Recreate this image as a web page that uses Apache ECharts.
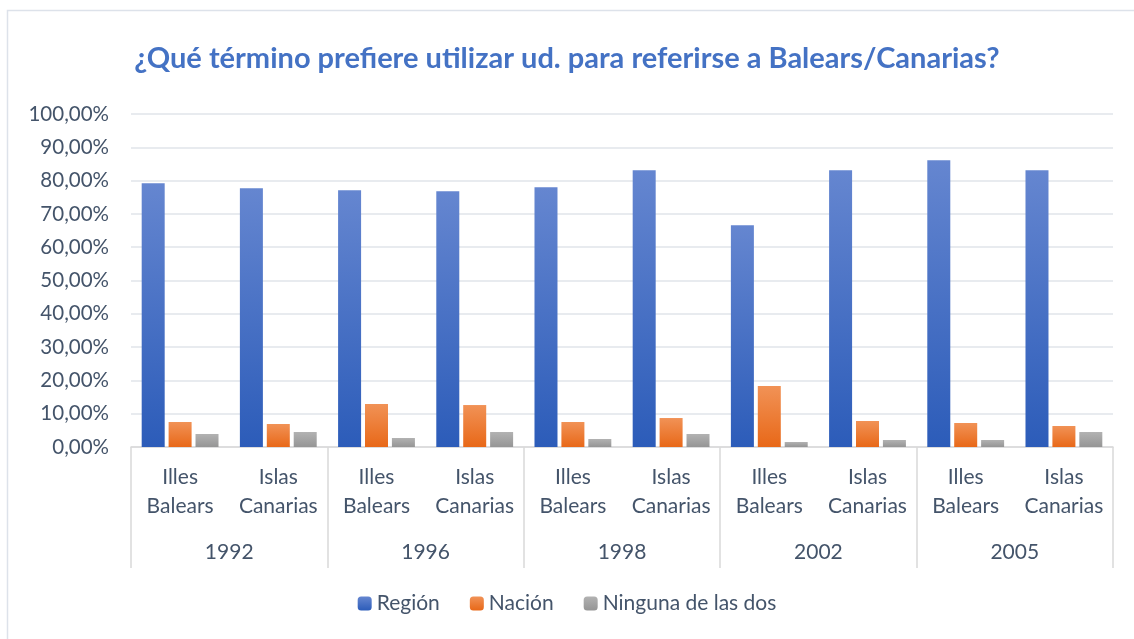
<!DOCTYPE html>
<html>
<head>
<meta charset="utf-8">
<script src="https://cdn.jsdelivr.net/npm/echarts@6/dist/echarts.min.js"></script>
<style>
  html, body { margin: 0; padding: 0; background: #fff; }
  #chart { width: 1134px; height: 639px; }
</style>
</head>
<body>
<div id="chart"></div>
<script>
  const places = ["Illes\nBalears", "Islas\nCanarias"];
  const years = ["1992", "1996", "1998", "2002", "2005"];
  const categories = years.flatMap(() => places);

  const region = [79.2, 77.7, 77.1, 76.8, 78.0, 83.1, 66.6, 83.1, 86.1, 83.1];
  const nacion = [7.5, 6.9, 12.9, 12.6, 7.5, 8.7, 18.3, 7.8, 7.2, 6.3];
  const ninguna = [3.9, 4.5, 2.7, 4.5, 2.4, 3.9, 1.5, 2.1, 2.1, 4.5];

  const textColor = "#44546a";
  const font = "Lato";

  const grad = (top, bottom) => new echarts.graphic.LinearGradient(0, 0, 0, 1, [
    { offset: 0, color: top },
    { offset: 1, color: bottom }
  ]);

  const chart = echarts.init(document.getElementById("chart"), null, { renderer: "canvas" });
  chart.setOption({
    animation: false,
    textStyle: { fontFamily: font },
    graphic: [{
      type: "rect",
      shape: { x: 7.5, y: 10.5, width: 1140, height: 640 },
      style: { fill: "none", stroke: "#dde2ea", lineWidth: 1.5 },
      silent: true
    }],
    title: {
      text: "¿Qué término prefiere utilizar ud. para referirse a Balears/Canarias?",
      left: "center",
      top: 39,
      textStyle: { color: "#4472c4", fontSize: 29, fontWeight: "bold", fontFamily: font }
    },
    legend: {
      bottom: 20,
      left: "center",
      itemWidth: 14,
      itemHeight: 14,
      itemGap: 30,
      textStyle: { color: textColor, fontSize: 21, fontFamily: font },
      data: ["Región", "Nación", "Ninguna de las dos"]
    },
    grid: { left: 131, right: 21, top: 114, bottom: 192, containLabel: false },
    xAxis: [
      {
        type: "category",
        data: categories,
        position: "bottom",
        axisLine: { lineStyle: { color: "#d9d9d9", width: 1.5 } },
        axisTick: { show: false },
        axisLabel: {
          interval: 0,
          color: textColor,
          fontSize: 21,
          lineHeight: 29,
          margin: 16
        }
      },
      {
        type: "category",
        data: years,
        position: "bottom",
        axisLine: { show: false },
        axisTick: { show: true, length: 121, lineStyle: { color: "#d9d9d9", width: 1.5 } },
        axisLabel: { color: textColor, fontSize: 21, margin: 95 }
      }
    ],
    yAxis: {
      type: "value",
      min: 0,
      max: 100,
      interval: 10,
      axisLine: { show: false },
      axisTick: { show: false },
      splitLine: { lineStyle: { color: "#e1e5ea", width: 1.5 } },
      axisLabel: {
        color: textColor,
        fontSize: 20.5,
        margin: 22,
        formatter: (v) => v.toFixed(2).replace(".", ",") + "%"
      }
    },
    series: [
      {
        name: "Región",
        type: "bar",
        data: region,
        barWidth: 23,
        barGap: "17%",
        itemStyle: { color: grad("#6586d0", "#2c5cb9") }
      },
      {
        name: "Nación",
        type: "bar",
        data: nacion,
        barWidth: 23,
        barGap: "17%",
        itemStyle: { color: grad("#f19256", "#e86818") }
      },
      {
        name: "Ninguna de las dos",
        type: "bar",
        data: ninguna,
        barWidth: 23,
        barGap: "17%",
        itemStyle: { color: grad("#b2b2b2", "#959595") }
      }
    ]
  });
</script>
</body>
</html>
